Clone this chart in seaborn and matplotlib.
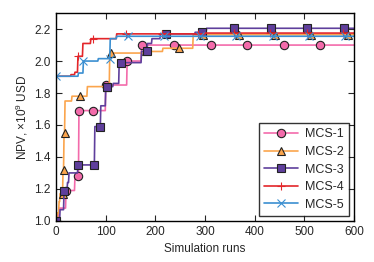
import numpy as np
import pandas as pd
import seaborn as sns
import matplotlib
matplotlib.use('Agg')
import matplotlib.pyplot as plt

# best NPV found so far (1e9 USD), read at the runs where it improves
runs_mcs1 = [0, 6, 20, 38, 46, 100, 143, 172]
npv_mcs1 = [1.00, 1.08, 1.19, 1.28, 1.69, 1.85, 2.00, 2.10]

runs_mcs2 = [0, 3, 6, 8, 14, 16, 18, 32, 63, 108, 180, 215, 276]
npv_mcs2 = [1.00, 1.05, 1.12, 1.17, 1.32, 1.55, 1.75, 1.78, 1.84, 2.05, 2.06, 2.08, 2.165]

runs_mcs3 = [0, 8, 16, 23, 26, 44, 78, 90, 100, 115, 127, 172, 184, 193, 210, 280, 303]
npv_mcs3 = [1.00, 1.07, 1.19, 1.24, 1.30, 1.35, 1.59, 1.72, 1.84, 1.86, 1.99, 2.06,
            2.11, 2.14, 2.17, 2.18, 2.205]

runs_mcs4 = [0, 30, 38, 44, 54, 70, 122, 300]
npv_mcs4 = [1.905, 1.915, 1.93, 2.03, 2.11, 2.14, 2.17, 2.175]

runs_mcs5 = [0, 45, 55, 85, 109, 122]
npv_mcs5 = [1.905, 1.925, 2.00, 2.015, 2.14, 2.155]

labels = ['MCS-1', 'MCS-2', 'MCS-3', 'MCS-4', 'MCS-5']
total_runs = 600

all_runs = np.arange(0, total_runs + 1)


def best_so_far(runs, npv):
    s = pd.Series(npv, index=runs)
    return s.reindex(all_runs).ffill()


series = [best_so_far(runs_mcs1, npv_mcs1), best_so_far(runs_mcs2, npv_mcs2),
          best_so_far(runs_mcs3, npv_mcs3), best_so_far(runs_mcs4, npv_mcs4),
          best_so_far(runs_mcs5, npv_mcs5)]

colors = ['#f36bab', '#fba54d', '#5f3f9c', '#e3262a', '#3b8fd1']
markers = ['o', '^', 's', '+', 'x']
faces = ['#f36bab', '#fba54d', '#5f3f9c', '#e3262a', '#3b8fd1']
edges = ['#222222', '#222222', '#222222', '#e3262a', '#3b8fd1']

sns.set_style('ticks')
plt.rcParams['font.family'] = ['Liberation Sans', 'DejaVu Sans']
plt.rcParams['mathtext.fontset'] = 'custom'
plt.rcParams['mathtext.rm'] = 'Liberation Sans'
plt.rcParams['mathtext.it'] = 'Liberation Sans:italic'

fig = plt.figure(figsize=(3.74, 2.62), dpi=100)
ax = fig.add_axes([0.150, 0.157, 0.797, 0.793])

for s, lab, c, m, fc, ec in zip(series, labels, colors, markers, faces, edges):
    sns.lineplot(x=s.index, y=s.values, ax=ax, color=c, linewidth=1.2,
                 marker=m, markersize=6, markevery=0.1,
                 markerfacecolor=fc, markeredgecolor=ec, markeredgewidth=0.8,
                 label=lab)

ax.set_xlim(0, 600)
ax.set_ylim(1.0, 2.3)
ax.set_xticks([0, 100, 200, 300, 400, 500, 600])
ax.set_yticks([1.0, 1.2, 1.4, 1.6, 1.8, 2.0, 2.2])
ax.set_yticklabels(['1.0', '1.2', '1.4', '1.6', '1.8', '2.0', '2.2'])
ax.tick_params(direction='in', top=True, right=True, length=4, width=0.8,
               labelsize=8.5, pad=4)
for sp in ax.spines.values():
    sp.set_linewidth(1.0)
    sp.set_color('black')

ax.set_xlabel('Simulation runs', fontsize=8.5, labelpad=3)
ax.set_ylabel(r'NPV, $\times 10^9$ USD', fontsize=8.5, labelpad=3)

leg = ax.legend(loc='lower right', fontsize=9, frameon=True, fancybox=False,
                handlelength=2.7, borderpad=0.4, labelspacing=0.45,
                borderaxespad=0.4, handletextpad=0.6)
leg.get_frame().set_edgecolor('black')
leg.get_frame().set_linewidth(1.0)

fig.savefig('out.png', dpi=100)
